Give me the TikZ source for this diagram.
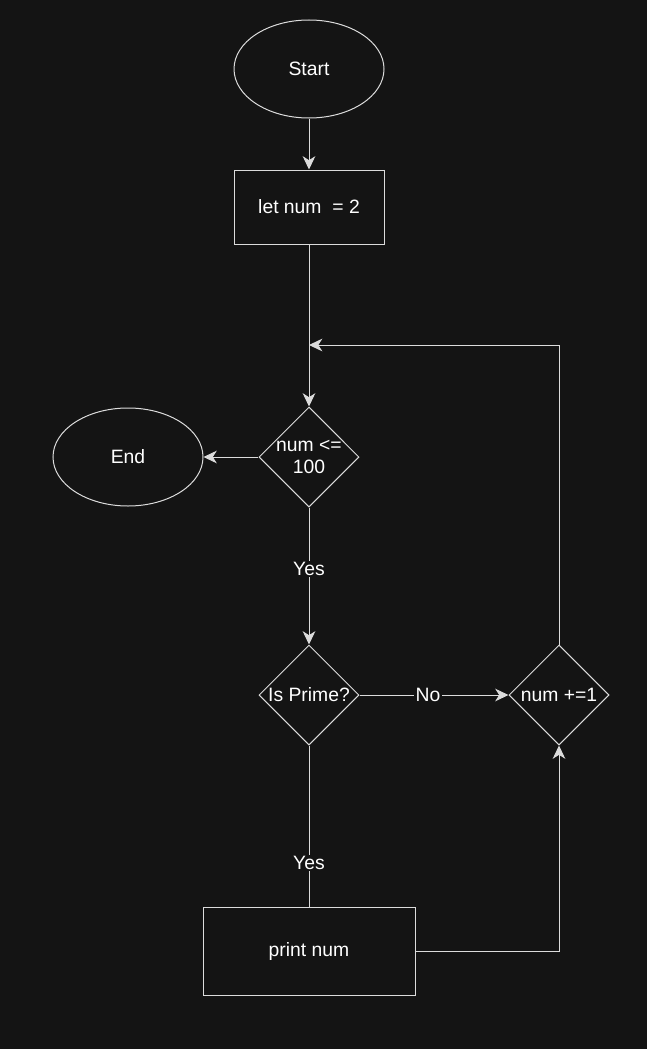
\documentclass[tikz,border=0pt]{standalone}
\usepackage{fontspec}
\setmainfont{Liberation Sans}
\usetikzlibrary{shapes.geometric,arrows.meta}
\definecolor{bgdark}{HTML}{141414}
\definecolor{linegray}{HTML}{DCDCDC}
\begin{document}
\begin{tikzpicture}[x=0.75pt,y=0.75pt,yscale=-1,xscale=1,
  every node/.style={font=\fontsize{14.5}{17}\selectfont, text=white},
  terminal/.style={ellipse, draw=linegray, line width=0.75pt, minimum width=112.5pt, minimum height=73.5pt},
  process/.style={rectangle, draw=linegray, line width=0.75pt},
  decision/.style={diamond, draw=linegray, line width=0.75pt, minimum size=75pt, inner sep=0pt},
  flow/.style={draw=linegray, line width=0.75pt},
  arrow/.style={flow, -{Stealth[length=10pt,width=9.5pt,inset=3pt]}},
  tag/.style={fill=bgdark, inner sep=1pt}]
\fill[bgdark] (0,0) rectangle (647,1049);
\useasboundingbox (0,0) rectangle (647,1049);
% Shapes
\node[terminal] (start) at (309,69) {Start};
\node[process, minimum width=112.5pt, minimum height=55.5pt] (init) at (309,207) {let num\ \ = 2};
\node[decision, label={[align=center]center:num <=\\100}] (cond) at (309,457) {};
\node[terminal] (finish) at (128,457) {End};
\node[decision, label={center:Is Prime?}] (prime) at (309,695) {};
\node[decision, label={center:num +=1}] (inc) at (559,695) {};
\node[process, minimum width=159pt, minimum height=66pt] (show) at (309,951) {print num};
\coordinate (join) at (309,345);
% Connectors
\draw[arrow] (start) -- (init);
\draw[arrow] (init) -- (cond);
\draw[arrow] (cond) -- (finish);
\draw[arrow] (cond) -- node[tag, pos=0.45] {Yes} (prime);
\draw[arrow] (prime) -- node[tag, pos=0.46] {No} (inc);
\draw[flow] (prime) -- node[tag, pos=0.73] {Yes} (show);
\draw[arrow] (show.east) -| (inc.south);
\draw[arrow] (inc.north) |- (join);
\end{tikzpicture}
\end{document}
